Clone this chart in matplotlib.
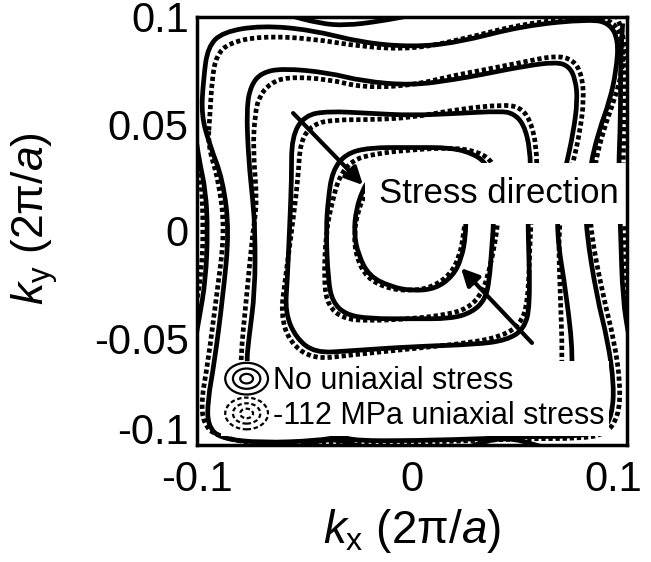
import matplotlib
matplotlib.use("Agg")
import numpy as np
import matplotlib.pyplot as plt
from matplotlib.path import Path
from matplotlib.patches import PathPatch, Ellipse
from matplotlib.legend_handler import HandlerBase
from matplotlib.lines import Line2D
from matplotlib.transforms import ScaledTranslation

plt.rcParams['font.family'] = ['Liberation Sans', 'DejaVu Sans']
plt.rcParams['mathtext.fontset'] = 'custom'
plt.rcParams['mathtext.rm'] = 'Liberation Sans'
plt.rcParams['mathtext.it'] = 'Liberation Sans:italic'

# ---- traced iso-energy contours, (kx, ky) in 2pi/a ----
# solid: no uniaxial stress, dashed: -112 MPa uniaxial stress
c1_solid = [(-0.023, 0.019), (-0.026, 0.010), (-0.027, -0.001), (-0.025, -0.011), (-0.020, -0.021),
            (-0.010, -0.026), (0.000, -0.028), (0.011, -0.027), (0.019, -0.021), (0.023, -0.013),
            (0.025, -0.002), (0.025, 0.008), (0.022, 0.018), (0.015, 0.025), (0.004, 0.028),
            (-0.010, 0.028), (-0.020, 0.024)]
c1_dashed = [(-0.021, 0.019), (-0.025, 0.010), (-0.027, -0.001), (-0.026, -0.012), (-0.021, -0.022),
             (-0.011, -0.027), (0.000, -0.028), (0.010, -0.026), (0.018, -0.020), (0.022, -0.012),
             (0.024, -0.002), (0.025, 0.009), (0.023, 0.019), (0.016, 0.027), (0.004, 0.030),
             (-0.009, 0.029), (-0.018, 0.025)]

c2_solid = [(0.038, 0.004), (0.037, -0.009), (0.036, -0.023), (0.034, -0.032), (0.028, -0.038),
            (0.018, -0.041), (0.000, -0.041), (-0.020, -0.041), (-0.031, -0.039), (-0.037, -0.033),
            (-0.039, -0.023), (-0.040, 0.000), (-0.039, 0.015), (-0.037, 0.028), (-0.031, 0.036),
            (-0.020, 0.039), (0.000, 0.039), (0.018, 0.039), (0.029, 0.036), (0.035, 0.031),
            (0.038, 0.021)]
c2_dashed = [(0.040, 0.004), (0.038, -0.009), (0.035, -0.022), (0.032, -0.030), (0.026, -0.036),
             (0.017, -0.039), (0.000, -0.041), (-0.020, -0.042), (-0.032, -0.041), (-0.039, -0.035),
             (-0.041, -0.024), (-0.040, 0.000), (-0.037, 0.014), (-0.034, 0.025), (-0.028, 0.033),
             (-0.018, 0.036), (0.000, 0.038), (0.019, 0.039), (0.031, 0.037), (0.038, 0.032),
             (0.041, 0.021)]

c3_solid = [(0.054, 0.000), (0.055, -0.035), (0.052, -0.046), (0.044, -0.051), (0.030, -0.053),
            (0.000, -0.054), (-0.029, -0.056), (-0.045, -0.057), (-0.054, -0.050), (-0.059, -0.038),
            (-0.058, -0.023), (-0.057, 0.000), (-0.056, 0.024), (-0.056, 0.044), (-0.050, 0.054),
            (-0.039, 0.056), (-0.020, 0.055), (0.000, 0.054), (0.022, 0.055), (0.041, 0.056),
            (0.047, 0.055), (0.052, 0.050), (0.055, 0.038), (0.055, 0.024), (0.054, 0.010)]
c3_dashed = [(0.055, 0.000), (0.054, -0.034), (0.050, -0.044), (0.042, -0.049), (0.029, -0.052),
             (0.000, -0.055), (-0.029, -0.058), (-0.046, -0.060), (-0.057, -0.052), (-0.061, -0.039),
             (-0.059, -0.023), (-0.056, 0.000), (-0.053, 0.024), (-0.052, 0.042), (-0.046, 0.050),
             (-0.036, 0.052), (-0.019, 0.052), (0.000, 0.053), (0.022, 0.057), (0.042, 0.059),
             (0.050, 0.058), (0.055, 0.052), (0.058, 0.039), (0.058, 0.024), (0.056, 0.010)]

c4_solid = [(0.075, -0.059), (0.072, -0.031), (0.067, 0.000), (0.069, 0.019), (0.072, 0.032),
            (0.075, 0.046), (0.077, 0.061), (0.076, 0.071), (0.073, 0.077), (0.067, 0.079),
            (0.052, 0.077), (0.032, 0.073), (0.021, 0.071), (0.000, 0.068), (-0.023, 0.070),
            (-0.039, 0.074), (-0.060, 0.076), (-0.070, 0.074), (-0.075, 0.068), (-0.077, 0.057),
            (-0.076, 0.033), (-0.074, 0.014), (-0.073, 0.000), (-0.073, -0.028), (-0.076, -0.051),
            (-0.077, -0.062), (-0.075, -0.077), (-0.052, -0.081), (0.000, -0.081), (0.055, -0.079),
            (0.073, -0.074)]
c4_dashed = [(0.070, -0.059), (0.069, -0.031), (0.068, 0.000), (0.071, 0.019), (0.075, 0.032),
             (0.078, 0.046), (0.080, 0.061), (0.079, 0.073), (0.075, 0.080), (0.067, 0.082),
             (0.052, 0.079), (0.032, 0.075), (0.021, 0.073), (0.000, 0.068), (-0.023, 0.067),
             (-0.039, 0.071), (-0.058, 0.072), (-0.066, 0.069), (-0.071, 0.063), (-0.073, 0.055),
             (-0.074, 0.038), (-0.072, 0.014), (-0.074, 0.000), (-0.077, -0.031), (-0.080, -0.062),
             (-0.079, -0.078), (-0.053, -0.083), (0.000, -0.082), (0.053, -0.078), (0.069, -0.072)]

c5_solid = [(-0.098, 0.054), (-0.097, 0.071), (-0.095, 0.086), (-0.088, 0.093), (-0.070, 0.096),
            (-0.047, 0.094), (-0.023, 0.088), (0.000, 0.086), (0.021, 0.088), (0.052, 0.096),
            (0.083, 0.099), (0.092, 0.097), (0.096, 0.089), (0.095, 0.075), (0.092, 0.061),
            (0.087, 0.047), (0.083, 0.031), (0.081, 0.014), (0.081, 0.000), (0.086, -0.031),
            (0.091, -0.051), (0.094, -0.072), (0.093, -0.086), (0.089, -0.093), (0.078, -0.096),
            (0.052, -0.096), (0.036, -0.097), (0.000, -0.098), (-0.026, -0.098), (-0.033, -0.096),
            (-0.044, -0.098), (-0.070, -0.099), (-0.089, -0.097), (-0.095, -0.091), (-0.095, -0.079),
            (-0.092, -0.062), (-0.088, -0.031), (-0.085, 0.000), (-0.088, 0.024), (-0.094, 0.040)]
c5_dashed = [(-0.094, 0.054), (-0.093, 0.071), (-0.091, 0.082), (-0.085, 0.088), (-0.070, 0.091),
             (-0.047, 0.090), (-0.023, 0.086), (0.000, 0.085), (0.021, 0.089), (0.052, 0.097),
             (0.083, 0.100), (0.094, 0.098), (0.098, 0.089), (0.098, 0.075), (0.094, 0.061),
             (0.089, 0.047), (0.085, 0.031), (0.083, 0.014), (0.083, 0.000), (0.089, -0.031),
             (0.094, -0.051), (0.097, -0.072), (0.096, -0.087), (0.090, -0.095), (0.078, -0.097),
             (0.052, -0.097), (0.000, -0.099), (-0.044, -0.099), (-0.070, -0.100), (-0.091, -0.096),
             (-0.097, -0.090), (-0.098, -0.079), (-0.095, -0.062), (-0.091, -0.031), (-0.087, 0.000),
             (-0.090, 0.024), (-0.095, 0.040)]

# outermost level, only pieces inside the window
c6_left = [(-0.101, 0.047), (-0.099, 0.033), (-0.096, 0.019), (-0.095, 0.000), (-0.096, -0.023),
           (-0.099, -0.041), (-0.101, -0.052)]
c6_right = [(0.098, 0.097), (0.097, 0.081), (0.097, 0.052), (0.096, 0.028), (0.097, 0.000),
            (0.098, -0.032), (0.101, -0.050)]
c6_top = [(-0.058, 0.101), (-0.043, 0.097), (-0.031, 0.096), (-0.015, 0.098), (0.001, 0.101)]
c6_bottom_a = [(-0.053, -0.101), (-0.038, -0.0965), (-0.023, -0.101)]
c6_bottom_b = [(0.026, -0.101), (0.043, -0.0958), (0.061, -0.101)]
c6_left_d = [(-0.101, 0.040), (-0.098, 0.025), (-0.097, 0.000), (-0.098, -0.020), (-0.101, -0.038)]
c6_right_d = [(0.095, 0.101), (0.099, 0.090), (0.099, 0.060), (0.098, 0.028), (0.099, 0.000),
              (0.100, -0.030), (0.101, -0.040)]

closed_solid = [c1_solid, c2_solid, c3_solid, c4_solid, c5_solid]
closed_dashed = [c1_dashed, c2_dashed, c3_dashed, c4_dashed, c5_dashed]
open_solid = [c6_left, c6_right, c6_top, c6_bottom_a, c6_bottom_b]
open_dashed = [c6_left_d, c6_right_d]

# stress direction arrows (tail -> head)
arrow_tails = [(-0.0553, 0.0551), (0.0558, -0.0523)]
arrow_heads = [(-0.0228, 0.0215), (0.0228, -0.0173)]

ticks = [-0.1, -0.05, 0, 0.05, 0.1]
xtick_labels = ['-0.1', '0', '0.1']
ytick_labels = ['-0.1', '-0.05', '0', '0.05', '0.1']
legend_labels = ['No uniaxial stress', '-112 MPa uniaxial stress']


def smooth_path(pts, closed):
    """Quadratic B-spline path through the traced points."""
    pts = np.asarray(pts, float)
    if closed:
        mids = (pts + np.roll(pts, -1, axis=0)) / 2
        verts = [mids[-1]]
        codes = [Path.MOVETO]
        for p, m in zip(pts, mids):
            verts += [p, m]
            codes += [Path.CURVE3, Path.CURVE3]
    else:
        mids = (pts[:-1] + pts[1:]) / 2
        verts = [pts[0], mids[0]]
        codes = [Path.MOVETO, Path.LINETO]
        for p, m in zip(pts[1:-1], mids[1:]):
            verts += [p, m]
            codes += [Path.CURVE3, Path.CURVE3]
        verts.append(pts[-1])
        codes.append(Path.LINETO)
    return Path(verts, codes)


LW = 3.4
DASH = (0, (0.9, 0.6))


class RingsHandler(HandlerBase):
    def __init__(self, ls):
        super().__init__()
        self.ls = ls

    def create_artists(self, legend, orig_handle, xdescent, ydescent, width, height, fontsize, trans):
        cx = width / 2 - xdescent
        cy = height / 2 - ydescent
        arts = []
        for s in (1.0, 0.64, 0.3):
            e = Ellipse((cx, cy), width * s, height * 1.25 * s, fill=False, lw=1.6,
                        ls=self.ls, edgecolor='black', transform=trans)
            arts.append(e)
        return arts


fig = plt.figure(figsize=(6.51, 5.62), dpi=100)
ax = fig.add_axes([197 / 651, 1 - 445 / 562, 430 / 651, 428 / 562])

for pts in closed_solid:
    ax.add_patch(PathPatch(smooth_path(pts, True), fill=False, lw=LW, color='black',
                           capstyle='butt', joinstyle='round', zorder=2))
for pts in closed_dashed:
    ax.add_patch(PathPatch(smooth_path(pts, True), fill=False, lw=LW, color='black',
                           ls=DASH, capstyle='butt', zorder=2))
for pts in open_solid:
    ax.add_patch(PathPatch(smooth_path(pts, False), fill=False, lw=LW, color='black',
                           capstyle='butt', zorder=2))
for pts in open_dashed:
    ax.add_patch(PathPatch(smooth_path(pts, False), fill=False, lw=LW, color='black',
                           ls=DASH, capstyle='butt', zorder=2))

for tail, head in zip(arrow_tails, arrow_heads):
    ax.annotate('', xy=head, xytext=tail,
                arrowprops=dict(arrowstyle='-|>', lw=3, color='black',
                                mutation_scale=26, shrinkA=0, shrinkB=0), zorder=4)

ax.text(0.0405, 0.0175, 'Stress direction', fontsize=25, ha='center', va='center', zorder=5,
        clip_on=True, bbox=dict(facecolor='white', edgecolor='none', pad=10))

ax.set_xlim(-0.1, 0.1)
ax.set_ylim(-0.1, 0.1)
ax.set_xticks([ticks[0], ticks[2], ticks[4]])
ax.set_xticklabels(xtick_labels)
ax.set_yticks(ticks)
ax.set_yticklabels(ytick_labels)
ax.tick_params(axis='both', length=0, labelsize=30)
ax.tick_params(axis='y', pad=6)
ax.tick_params(axis='x', pad=11)
for sp in ax.spines.values():
    sp.set_linewidth(2.5)
    sp.set_zorder(8)

# nudge end labels like the original
ylab = ax.get_yticklabels()[0]
ylab.set_transform(ylab.get_transform() + ScaledTranslation(0, 17 / 100, fig.dpi_scale_trans))
xlab_r = ax.get_xticklabels()[-1]
xlab_r.set_transform(xlab_r.get_transform() + ScaledTranslation(-14 / 100, 0, fig.dpi_scale_trans))

ax.set_xlabel(r'$k_{\mathrm{x}}$ (2π/$a$)', fontsize=33)
ax.set_ylabel(r'$k_{\mathrm{y}}$ (2π/$a$)', fontsize=32)
ax.xaxis.set_label_coords(0.5, -0.145)
ax.yaxis.set_label_coords(-0.318, 0.53)

handles = [Line2D([], [], color='black'), Line2D([], [], color='black', ls='--')]
leg = ax.legend(handles, legend_labels, loc='lower left', bbox_to_anchor=(0.055, 0.022),
                fontsize=22, frameon=True, framealpha=1, facecolor='white', edgecolor='none',
                fancybox=False, borderpad=0.15, borderaxespad=0, labelspacing=0.15,
                handlelength=1.4, handleheight=0.9, handletextpad=0.15,
                handler_map={handles[0]: RingsHandler('-'), handles[1]: RingsHandler((0, (2, 1.2)))})
leg.set_zorder(6)

fig.savefig('out.png', dpi=100)
